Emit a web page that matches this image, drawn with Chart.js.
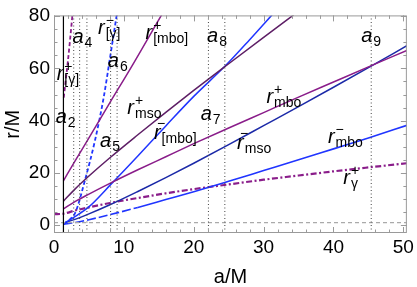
<!DOCTYPE html>
<html>
<head>
<meta charset="utf-8">
<script src="https://cdn.jsdelivr.net/npm/chart.js@4.4.1/dist/chart.umd.min.js"></script>
<style>
  html, body { margin: 0; padding: 0; background: #fff; }
</style>
</head>
<body>
<canvas id="chart" width="417" height="287"></canvas>
<script>
// values (a/M on x, r/M on y)
const aLong = [1.35, 3, 5, 8, 12, 16, 20, 25, 30, 35, 40, 45, 50.5];
const rMboPlus = [6.2, 9, 11.9, 16, 21.2, 26.2, 31.2, 37.2, 43.1, 49, 54.8, 60.6, 66.9];
const rMsoMinus = [0.8, 2.2, 4.3, 7.8, 12.9, 18.2, 23.7, 30.8, 38.1, 45.4, 52.8, 60.3, 68.7];
const rMboMinus = [0.3, 1, 2.1, 4, 6.8, 9.8, 12.8, 16.8, 20.9, 25, 29.2, 33.4, 38.2];

const aGammaPlus = [0, 1.35, 3, 5, 8, 12, 16, 20, 25, 30, 35, 40, 45, 50.5];
const rGammaPlus = [4.2, 4.4, 5.6, 6.8, 8.5, 10.4, 12.2, 13.8, 15.6, 17.4, 19.0, 20.6, 22.1, 23.7];

const aMsoPlus = [1.35, 3, 5, 8, 12, 16, 20, 25, 30, 34.3];
const rMsoPlus = [9.2, 13.8, 18.8, 25.8, 34.6, 43.2, 51.6, 61.8, 71.9, 80.5];

const aMboBrMinus = [1.35, 3, 4.9, 8.2, 12, 16, 20, 24.45, 28, 31.2];
const rMboBrMinus = [0.6, 3.3, 6.8, 15.8, 26.5, 38, 49.3, 60.8, 71, 80.5];

const aMboBrPlus = [1.35, 3, 5, 8, 11, 15.4];
const rMboBrPlus = [17, 24.5, 33.4, 46.9, 60.2, 80.5];

const aGammaBrPlus = [1.4, 1.7, 2.0, 2.3, 2.64];
const rGammaBrPlus = [48.8, 56, 63, 71, 80.5];

const aGammaBrMinus = [1.4, 2.2, 3.06, 4.47, 5.88, 7.15, 8.0, 8.98];
const rGammaBrMinus = [0.5, 2, 4.9, 17.6, 32.6, 49.5, 63.8, 80.5];

const aMarks = [2.82, 3.67, 4.71, 8.1, 9.03, 22.1, 24.45, 45.4];
const aEdge = 1.35;
const rFloor = 1;

const xMin = 0, xMax = 50.5, yMin = -3, yMax = 80.3;

const FONT = '"Liberation Sans", Arial, Helvetica, sans-serif';
const purple = '#8a1d8a';
const darkPurple = '#5e1f66';
const blue = '#2035ff';
const navy = '#1c2aa8';

function pts(a, r) {
  return a.map((v, i) => ({ x: v, y: r[i] }));
}

function curve(a, r, color, width, dash, extra) {
  return Object.assign({
    data: pts(a, r),
    showLine: true,
    borderColor: color,
    borderWidth: width,
    borderDash: dash || [],
    pointRadius: 0,
    fill: false,
    cubicInterpolationMode: 'monotone'
  }, extra || {});
}

const datasets = [];

// vertical markers a_i
aMarks.forEach(a => {
  datasets.push(curve([a, a], [yMin, yMax], '#444', 1, [1, 2.5], { cubicInterpolationMode: 'default' }));
});
datasets.push(curve([aEdge, aEdge], [yMin, yMax], '#000', 1.2, [], { cubicInterpolationMode: 'default' }));
datasets.push(curve([xMin, xMax], [rFloor, rFloor], '#aaa', 1.2, [4, 3], { cubicInterpolationMode: 'default' }));

datasets.push(curve(aMboBrPlus, rMboBrPlus, purple, 1.5));
datasets.push(curve(aMsoPlus, rMsoPlus, darkPurple, 1.5));
datasets.push(curve(aLong, rMboPlus, purple, 1.5));
datasets.push(curve(aMboBrMinus, rMboBrMinus, blue, 1.5));
datasets.push(curve(aLong, rMsoMinus, navy, 1.5));
datasets.push(curve(aLong, rMboMinus, blue, 1.6, [], {
  segment: { borderDash: c => (c.p1.parsed.x <= 13 ? [9, 3] : undefined) }
}));
datasets.push(curve(aGammaPlus, rGammaPlus, purple, 2.2, [6, 2.5, 2, 2.5]));
datasets.push(curve(aGammaBrPlus, rGammaBrPlus, purple, 1.8, [4, 2.5]));
datasets.push(curve(aGammaBrMinus, rGammaBrMinus, blue, 1.8, [4, 2.5]));

// text labels: anchor = left edge / baseline of the main letter, in data units
const notes = [
  { a: 0.24, r: 39.0, main: 'a', sub: '2' },
  { a: 0.38, r: 55.5, main: 'r', sup: '+', sub: '[γ]' },
  { a: 2.64, r: 69.8, main: 'a', sub: '4' },
  { a: 6.3, r: 73.0, main: 'r', sup: '−', sub: '[γ]' },
  { a: 7.7, r: 60.4, main: 'a', sub: '6' },
  { a: 13.1, r: 71.3, main: 'r', sup: '+', sub: '[mbo]' },
  { a: 10.5, r: 42.4, main: 'r', sup: '+', sub: 'mso' },
  { a: 6.59, r: 30.0, main: 'a', sub: '5' },
  { a: 21.0, r: 40.2, main: 'a', sub: '7' },
  { a: 14.3, r: 33.0, main: 'r', bar: true, sub: '[mbo]' },
  { a: 21.9, r: 70.2, main: 'a', sub: '8' },
  { a: 30.4, r: 46.9, main: 'r', sup: '+', sub: 'mbo' },
  { a: 26.2, r: 29.3, main: 'r', bar: true, sub: 'mso' },
  { a: 43.96, r: 70.2, main: 'a', sub: '9' },
  { a: 39.2, r: 31.5, main: 'r', sup: '−', sub: 'mbo' },
  { a: 41.4, r: 15.8, main: 'r', sup: '+', sub: 'γ' }
];

const framePlugin = {
  id: 'frame',
  afterDraw(chart) {
    const { ctx, chartArea: ca, scales } = chart;
    const xs = scales.x, ys = scales.y;
    ctx.save();
    // frame
    ctx.strokeStyle = '#9a9a9a';
    ctx.lineWidth = 1;
    ctx.strokeRect(ca.left + 0.5, ca.top + 0.5, ca.right - ca.left - 1, ca.bottom - ca.top - 1);
    // ticks (inward, all four sides)
    ctx.beginPath();
    for (let v = 0; v <= 50; v += 2) {
      const x = Math.round(xs.getPixelForValue(v)) + 0.5;
      const len = v % 10 === 0 ? 6 : 3.5;
      ctx.moveTo(x, ca.bottom); ctx.lineTo(x, ca.bottom - len);
      ctx.moveTo(x, ca.top); ctx.lineTo(x, ca.top + len);
    }
    for (let v = 0; v <= 80; v += 5) {
      const y = Math.round(ys.getPixelForValue(v)) + 0.5;
      const len = v % 20 === 0 ? 6 : 3.5;
      ctx.moveTo(ca.left, y); ctx.lineTo(ca.left + len, y);
      ctx.moveTo(ca.right, y); ctx.lineTo(ca.right - len, y);
    }
    ctx.stroke();

    // labels
    ctx.fillStyle = '#000';
    ctx.textBaseline = 'alphabetic';
    notes.forEach(n => {
      const x = xs.getPixelForValue(n.a);
      const y = ys.getPixelForValue(n.r);
      ctx.font = 'italic 20px ' + FONT;
      ctx.fillText(n.main, x, y);
      const w = ctx.measureText(n.main).width + 1;
      ctx.font = '14px ' + FONT;
      if (n.sup) ctx.fillText(n.sup, x + w, y - 9);
      if (n.bar) ctx.fillText('−', x + 3, y - 11);
      if (n.sub) ctx.fillText(n.sub, x + w, y + 4);
    });

    // axis titles
    ctx.font = '20px ' + FONT;
    ctx.textAlign = 'center';
    ctx.fillText('a/M', (ca.left + ca.right) / 2, 283);
    ctx.translate(19, (ca.top + ca.bottom) / 2);
    ctx.rotate(-Math.PI / 2);
    ctx.fillText('r/M', 0, 0);
    ctx.restore();
  }
};

new Chart(document.getElementById('chart').getContext('2d'), {
  type: 'scatter',
  data: { datasets },
  options: {
    responsive: false,
    animation: false,
    layout: { padding: { top: 11, right: 6, left: 0, bottom: 0 } },
    plugins: { legend: { display: false }, tooltip: { enabled: false } },
    scales: {
      x: {
        type: 'linear', min: xMin, max: xMax,
        afterFit(s) { s.height = 54; },
        grid: { display: false, drawTicks: false },
        border: { display: false },
        ticks: { stepSize: 10, includeBounds: false, padding: 3, color: '#000', font: { family: FONT, size: 19 } }
      },
      y: {
        type: 'linear', min: yMin, max: yMax,
        afterFit(s) { s.width = 54; },
        grid: { display: false, drawTicks: false },
        border: { display: false },
        ticks: { stepSize: 20, includeBounds: false, autoSkip: false, padding: 4, color: '#000', font: { family: FONT, size: 19 } }
      }
    }
  },
  plugins: [framePlugin]
});
</script>
</body>
</html>
